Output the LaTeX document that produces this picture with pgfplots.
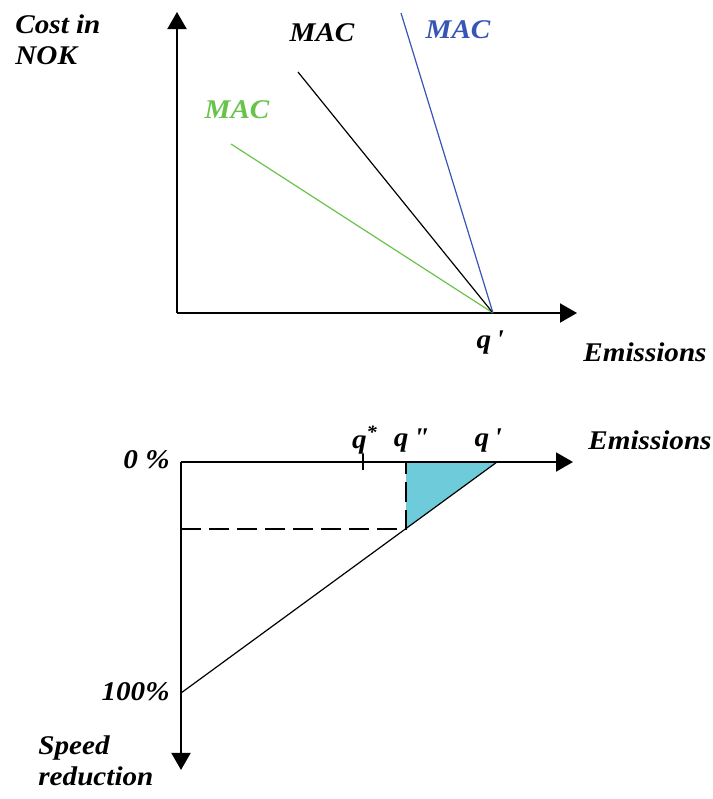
\documentclass[border=0pt]{standalone}
\usepackage{pgfplots}
\pgfplotsset{compat=1.18}
\usepackage{fontspec}
\setmainfont[FakeStretch=1.08]{Liberation Serif}
\usetikzlibrary{arrows.meta}
\definecolor{macgreen}{RGB}{105,195,75}
\definecolor{macblue}{RGB}{55,85,180}
\definecolor{areafill}{RGB}{110,204,218}
\newcommand{\qp}{q\,\textquotesingle}
\newcommand{\qpp}{q\,\textquotedbl}
\begin{document}
\begin{tikzpicture}
\useasboundingbox (0,0) rectangle (356.5pt,-399.5pt);
\tikzset{lbl/.style={font=\fontsize{13.5}{15.5}\selectfont\bfseries\itshape, inner sep=0pt},
  axarrow/.style={line width=1pt, -{Triangle[width=9.5pt,length=8.5pt]}}}
% Upper panel: marginal abatement cost curves
\begin{axis}[at={(0,0)}, anchor=north west, scale only axis, hide axis, clip=false,
  x=0.5pt, y=0.5pt, xmin=-177, xmax=536, ymin=-67, ymax=313]
  \addplot[axarrow] coordinates {(0,0) (0,301)};
  \addplot[axarrow] coordinates {(0,0) (400,0)};
  \addplot[macgreen, line width=0.6pt] coordinates {(54,169) (316,0)};
  \addplot[black, line width=0.6pt] coordinates {(121,241) (316,0)};
  \addplot[macblue, line width=0.6pt] coordinates {(224,300) (316,0)};
  \node[lbl, anchor=north west, align=left] at (axis cs:-162,299) {Cost in\\NOK};
  \node[lbl] at (axis cs:145,280) {MAC};
  \node[lbl, text=macgreen] at (axis cs:60,203) {MAC};
  \node[lbl, text=macblue] at (axis cs:281,283) {MAC};
  \node[lbl] at (axis cs:313,-30) {\qp};
  \node[lbl] at (axis cs:468,-39) {Emissions};
\end{axis}
% Lower panel: speed reduction against emissions
\begin{axis}[at={(0,-190pt)}, anchor=north west, scale only axis, hide axis, clip=false,
  x=0.5pt, y=1.155pt, y dir=reverse, xmin=-181, xmax=532, ymin=-35.5, ymax=145.9]
  \addplot[fill=areafill, draw=none] coordinates {(225,0) (316,0) (225,28.8)} -- cycle;
  \addplot[black, line width=1pt, dash pattern=on 10pt off 4pt] coordinates {(0,28.8) (225,28.8) (225,0)};
  \addplot[black, line width=0.6pt] coordinates {(0,100) (316,0)};
  \addplot[black, line width=0.8pt] coordinates {(182,-3.5) (182,3.5)};
  \addplot[axarrow] coordinates {(0,0) (392,0)};
  \addplot[axarrow] coordinates {(0,0) (0,133.3)};
  \node[lbl] at (axis cs:184,-9.5) {q\textsuperscript{*}};
  \node[lbl] at (axis cs:230,-9.5) {\qpp};
  \node[lbl] at (axis cs:307,-9.5) {\qp};
  \node[lbl] at (axis cs:469,-9.5) {Emissions};
  \node[lbl, anchor=east] at (axis cs:-11,-0.9) {0 \%};
  \node[lbl, anchor=east] at (axis cs:-11,99.6) {100\%};
  \node[lbl, anchor=north west, align=left] at (axis cs:-143,118.2) {Speed\\reduction};
\end{axis}
\end{tikzpicture}
\end{document}
